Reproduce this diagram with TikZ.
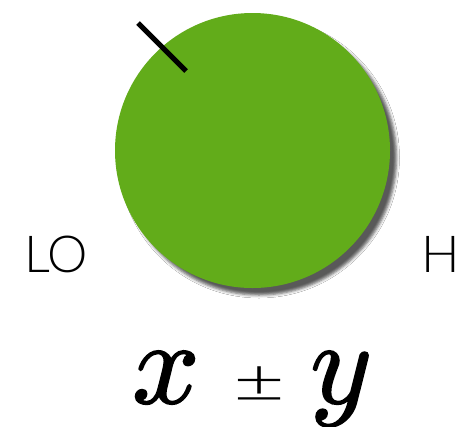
\documentclass[tikz,border=0pt]{standalone}
\usepackage{fontspec}
\usetikzlibrary{shadows.blur}
\newfontfamily\lightfont{Lato Light}
\newfontfamily\lmmath{latinmodern-math.otf}[FakeBold=1.5]
\definecolor{ballgreen}{HTML}{62AC1A}
\tikzset{
  lbl/.style={font=\lightfont\fontsize{51}{51}\selectfont, inner sep=0pt, anchor=base west},
  mathlbl/.style={font=\lmmath\fontsize{118}{118}\selectfont, inner sep=0pt, anchor=base west},
  tickline/.style={line width=5pt, black}
}
\begin{document}
\begin{tikzpicture}[x=1pt,y=1pt]
\useasboundingbox (0,0) rectangle (462,-426);
\fill[white] (0,0) rectangle (462,-426);
\node[circle, fill=ballgreen, minimum size=275pt, inner sep=0pt,
  blur shadow={shadow xshift=6.5pt, shadow yshift=-7pt, shadow blur radius=3pt, shadow opacity=65}] (ball) at (252.5,-150.5) {};
\coordinate (t1) at (138,-23);
\coordinate (t2) at (186,-71);
\draw[tickline] (t1) -- (t2);
\node[lbl] (lo) at (24,-272) {LO};
\node[lbl] (hi) at (421,-272) {H};
\node[mathlbl] (mx) at (132,-403) {𝑥};
\node[lbl, font=\lightfont\fontsize{62}{62}\selectfont] (pm) at (233,-402) {\scalebox{1.45}[1]{±}};
\node[mathlbl] (my) at (310,-403) {𝑦};
\end{tikzpicture}
\end{document}
